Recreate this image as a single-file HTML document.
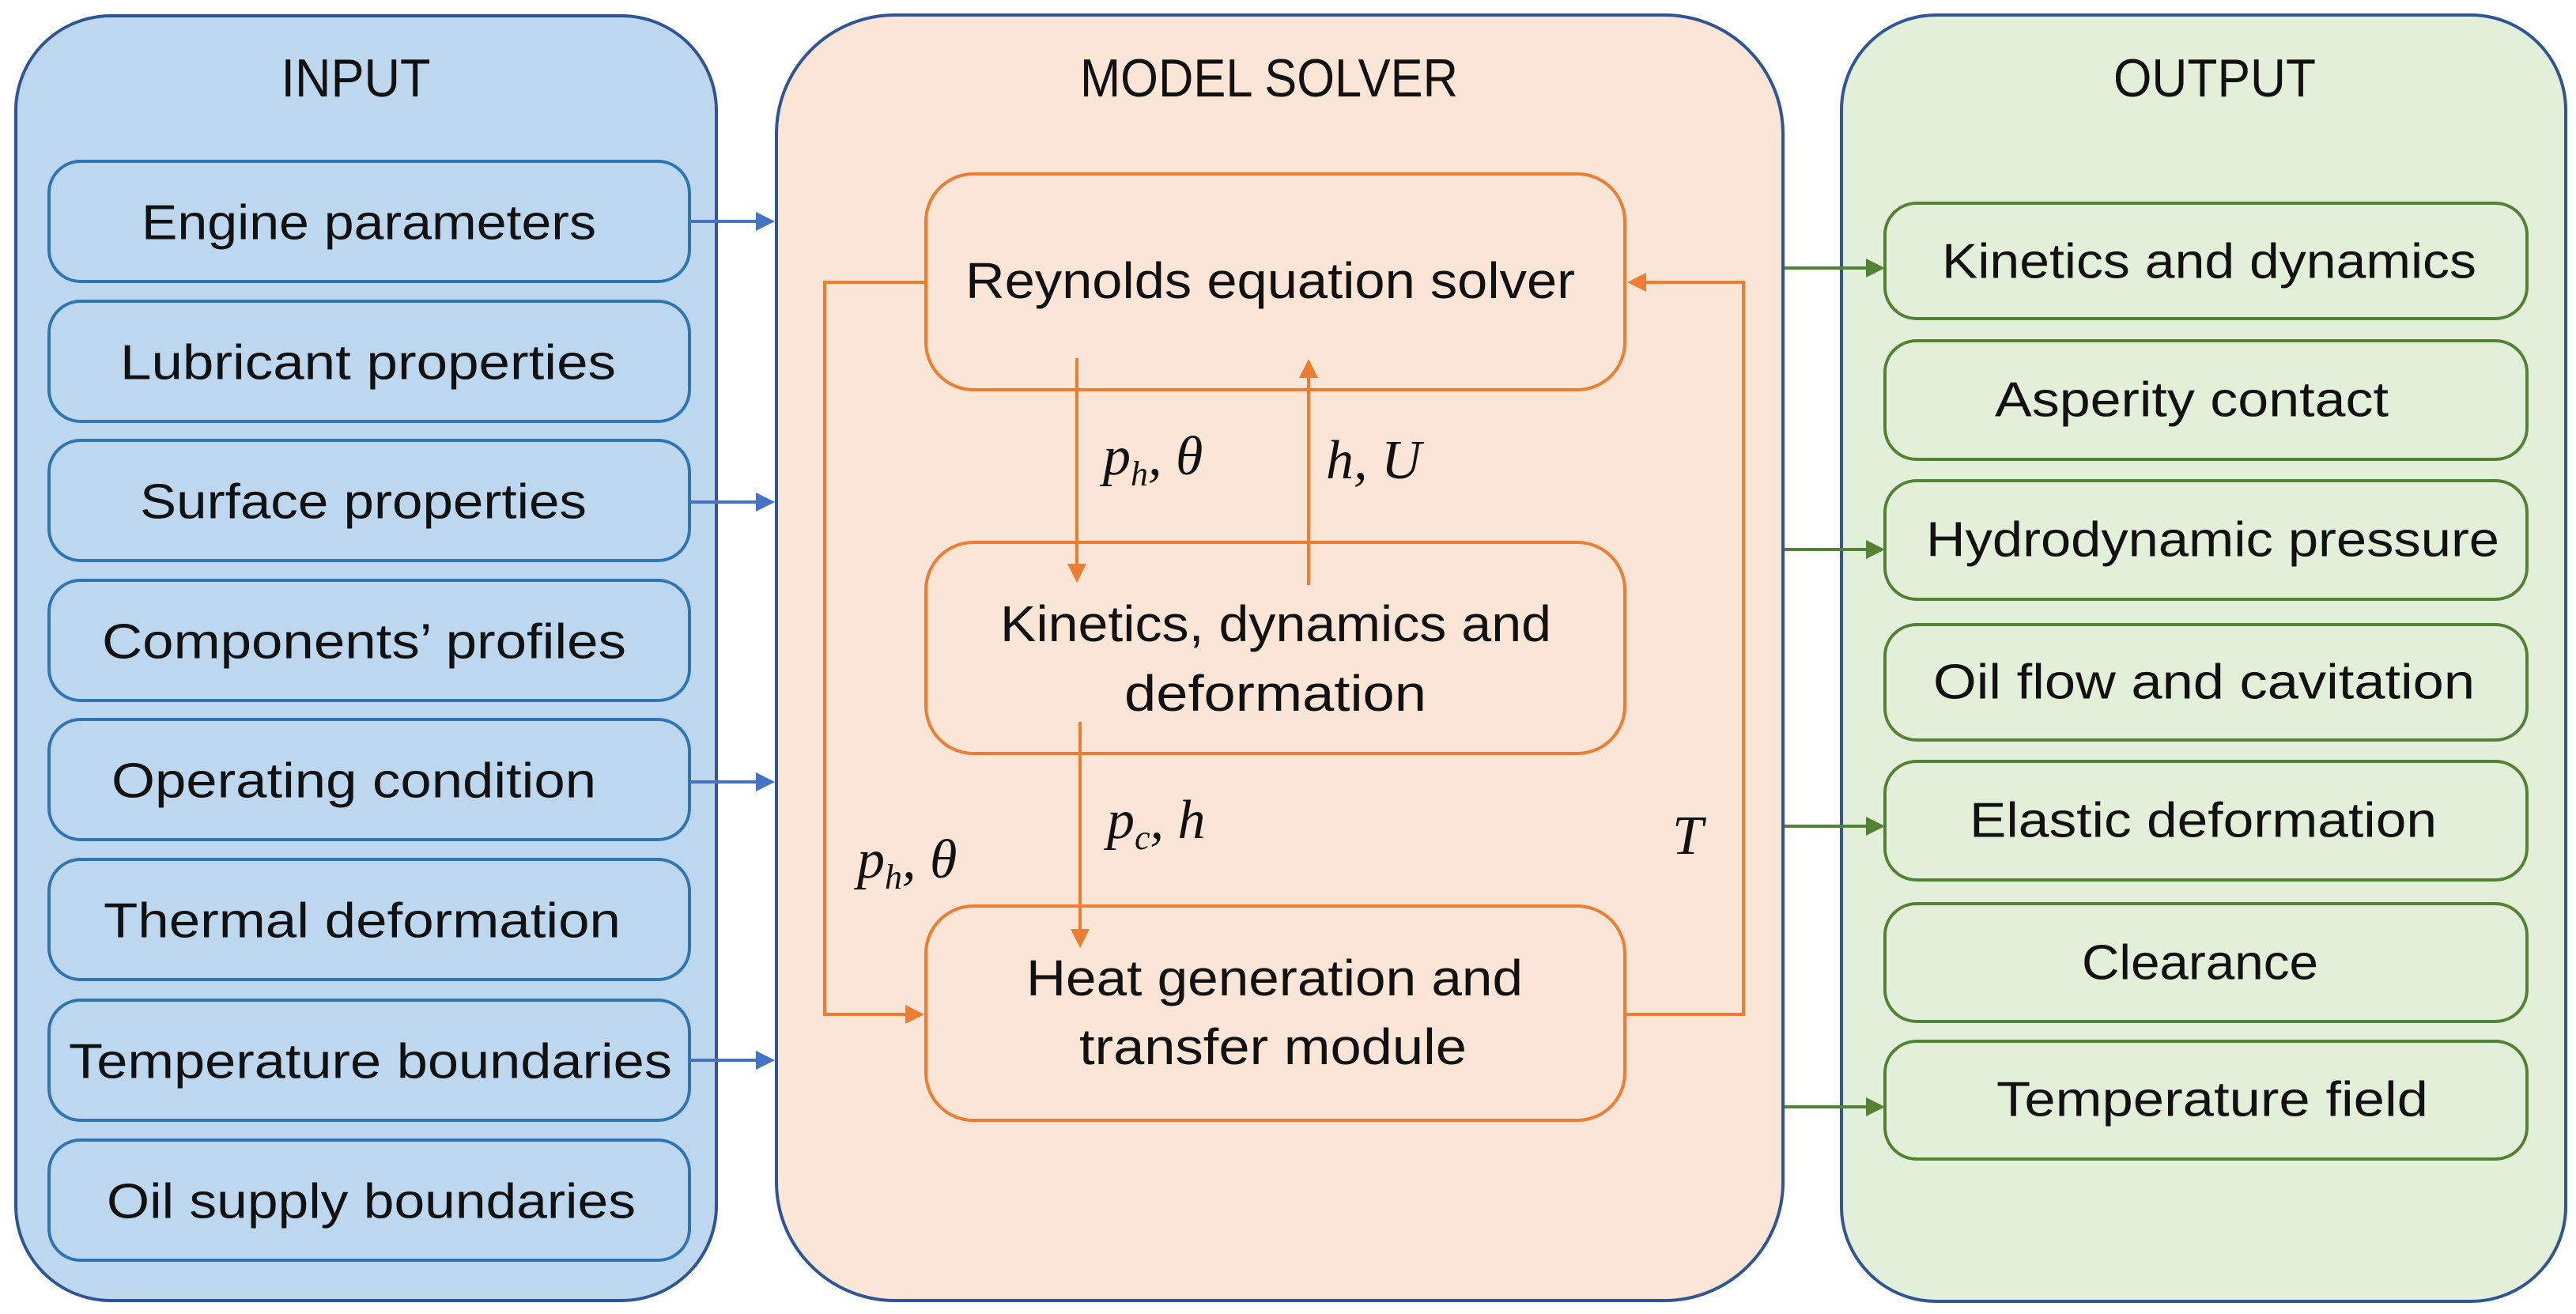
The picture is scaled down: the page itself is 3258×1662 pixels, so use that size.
<!DOCTYPE html>
<html><head><meta charset="utf-8"><style>
html,body{margin:0;padding:0;background:#fff;}
svg{display:block;}
text{font-family:"Liberation Sans",sans-serif;fill:#111;}
.m{font-family:"Liberation Serif",serif;font-style:italic;}
</style></head><body>
<svg width="3258" height="1662" viewBox="0 0 3258 1662" xmlns="http://www.w3.org/2000/svg">
<defs>
<marker id="ab" markerWidth="6" markerHeight="6" refX="5" refY="3" orient="auto" markerUnits="strokeWidth"><path d="M0,0 L6,3 L0,6 z" fill="#4472C4"/></marker>
<marker id="ag" markerWidth="6" markerHeight="6" refX="5" refY="3" orient="auto" markerUnits="strokeWidth"><path d="M0,0 L6,3 L0,6 z" fill="#548235"/></marker>
<marker id="ao" markerWidth="6" markerHeight="6" refX="5" refY="3" orient="auto" markerUnits="strokeWidth"><path d="M0,0 L6,3 L0,6 z" fill="#ED7D31"/></marker>
</defs>
<!-- outer panels -->
<rect x="20" y="20" width="886" height="1625" rx="120" fill="#BDD7EE" stroke="#2F5597" stroke-width="4"/>
<rect x="982" y="19" width="1273" height="1626" rx="150" fill="#FBE5D6" stroke="#2F5597" stroke-width="4"/>
<rect x="2329" y="19" width="916" height="1627" rx="120" fill="#E2F0D9" stroke="#2F5597" stroke-width="4"/>

<g text-anchor="middle" font-size="68" dominant-baseline="central">
<text x="450" y="99" textLength="189" lengthAdjust="spacingAndGlyphs">INPUT</text>
<text x="1605" y="99" textLength="478" lengthAdjust="spacingAndGlyphs">MODEL SOLVER</text>
<text x="2801" y="99" textLength="256" lengthAdjust="spacingAndGlyphs">OUTPUT</text>
</g>

<!-- input boxes -->
<g fill="#BDD7EE" stroke="#2E75B6" stroke-width="4">
<rect x="62" y="204" width="810" height="152" rx="40"/>
<rect x="62" y="381" width="810" height="152" rx="40"/>
<rect x="62" y="557" width="810" height="152" rx="40"/>
<rect x="62" y="734" width="810" height="152" rx="40"/>
<rect x="62" y="910" width="810" height="152" rx="40"/>
<rect x="62" y="1087" width="810" height="152" rx="40"/>
<rect x="62" y="1265" width="810" height="152" rx="40"/>
<rect x="62" y="1442" width="810" height="152" rx="40"/>
</g>
<g font-size="62" dominant-baseline="central" lengthAdjust="spacingAndGlyphs">
<text x="179" y="282" textLength="575" lengthAdjust="spacingAndGlyphs">Engine parameters</text>
<text x="152" y="459" textLength="627" lengthAdjust="spacingAndGlyphs">Lubricant properties</text>
<text x="177" y="635" textLength="565" lengthAdjust="spacingAndGlyphs">Surface properties</text>
<text x="129" y="812" textLength="663" lengthAdjust="spacingAndGlyphs">Components’ profiles</text>
<text x="141" y="988" textLength="613" lengthAdjust="spacingAndGlyphs">Operating condition</text>
<text x="131" y="1165" textLength="654" lengthAdjust="spacingAndGlyphs">Thermal deformation</text>
<text x="87" y="1343" textLength="763" lengthAdjust="spacingAndGlyphs">Temperature boundaries</text>
<text x="135" y="1520" textLength="669" lengthAdjust="spacingAndGlyphs">Oil supply boundaries</text>
</g>
<g stroke="#4472C4" stroke-width="4" marker-end="url(#ab)">
<line x1="872" y1="280" x2="976" y2="280"/>
<line x1="872" y1="635" x2="976" y2="635"/>
<line x1="872" y1="989" x2="976" y2="989"/>
<line x1="872" y1="1341" x2="976" y2="1341"/>
</g>

<!-- output boxes -->
<g fill="#E2F0D9" stroke="#548235" stroke-width="4">
<rect x="2384" y="257" width="812" height="146" rx="40"/>
<rect x="2384" y="431" width="812" height="150" rx="40"/>
<rect x="2384" y="608" width="812" height="150" rx="40"/>
<rect x="2384" y="790" width="812" height="146" rx="40"/>
<rect x="2384" y="963" width="812" height="150" rx="40"/>
<rect x="2384" y="1143" width="812" height="149" rx="40"/>
<rect x="2384" y="1317" width="812" height="149" rx="40"/>
</g>
<g font-size="62" dominant-baseline="central">
<text x="2456" y="331" textLength="676" lengthAdjust="spacingAndGlyphs">Kinetics and dynamics</text>
<text x="2523" y="506" textLength="498" lengthAdjust="spacingAndGlyphs">Asperity contact</text>
<text x="2436" y="683" textLength="725" lengthAdjust="spacingAndGlyphs">Hydrodynamic pressure</text>
<text x="2445" y="863" textLength="685" lengthAdjust="spacingAndGlyphs">Oil flow and cavitation</text>
<text x="2491" y="1038" textLength="591" lengthAdjust="spacingAndGlyphs">Elastic deformation</text>
<text x="2633" y="1218" textLength="299" lengthAdjust="spacingAndGlyphs">Clearance</text>
<text x="2525" y="1391" textLength="546" lengthAdjust="spacingAndGlyphs">Temperature field</text>
</g>
<g stroke="#548235" stroke-width="4" marker-end="url(#ag)">
<line x1="2257" y1="339" x2="2380" y2="339"/>
<line x1="2257" y1="695" x2="2380" y2="695"/>
<line x1="2257" y1="1045" x2="2380" y2="1045"/>
<line x1="2257" y1="1400" x2="2380" y2="1400"/>
</g>

<!-- solver inner -->
<g fill="#FBE5D6" stroke="#ED7D31" stroke-width="4">
<rect x="1171" y="220" width="884" height="273" rx="60"/>
<rect x="1171" y="686" width="884" height="267" rx="60"/>
<rect x="1171" y="1146" width="884" height="271" rx="60"/>
</g>
<g font-size="64" dominant-baseline="central">
<text x="1221" y="355" textLength="771" lengthAdjust="spacingAndGlyphs">Reynolds equation solver</text>
<text x="1265" y="789" textLength="697" lengthAdjust="spacingAndGlyphs">Kinetics, dynamics and</text>
<text x="1422" y="877" textLength="382" lengthAdjust="spacingAndGlyphs">deformation</text>
<text x="1298" y="1237" textLength="628" lengthAdjust="spacingAndGlyphs">Heat generation and</text>
<text x="1365" y="1324" textLength="490" lengthAdjust="spacingAndGlyphs">transfer module</text>
</g>
<g stroke="#ED7D31" stroke-width="4" fill="none">
<polyline points="1171,357 1043,357 1043,1283 1165,1283" marker-end="url(#ao)"/>
<polyline points="2055,1283 2205,1283 2205,357 2062,357" marker-end="url(#ao)"/>
<line x1="1362" y1="453" x2="1362" y2="733" marker-end="url(#ao)"/>
<line x1="1655" y1="740" x2="1655" y2="458" marker-end="url(#ao)"/>
<line x1="1366" y1="913" x2="1366" y2="1195" marker-end="url(#ao)"/>
</g>
<g font-size="70" class="m">
<text class="m" x="1395" y="600">p<tspan font-size="44" dy="14">h</tspan><tspan dy="-14">, θ</tspan></text>
<text class="m" x="1677" y="605">h, U</text>
<text class="m" x="1400" y="1060">p<tspan font-size="44" dy="14">c</tspan><tspan dy="-14">, h</tspan></text>
<text class="m" x="1084" y="1110">p<tspan font-size="44" dy="14">h</tspan><tspan dy="-14">, θ</tspan></text>
<text class="m" x="2115" y="1080">T</text>
</g>
</svg>
</body></html>
